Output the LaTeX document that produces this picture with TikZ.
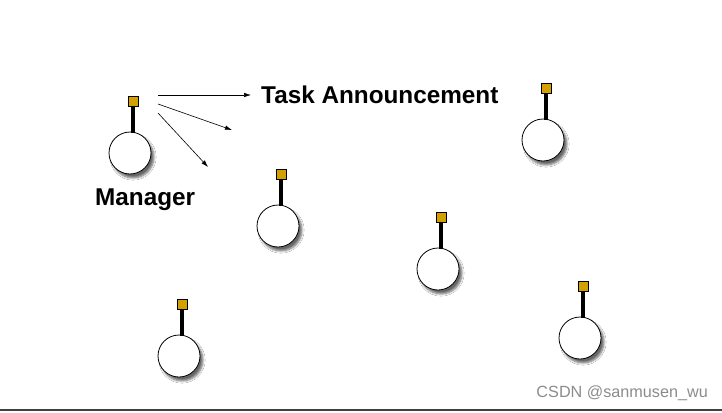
\documentclass[tikz,border=0pt]{standalone}
\usepackage{fontspec}
\setmainfont{Liberation Sans}
\usetikzlibrary{shadows.blur,arrows.meta}
\definecolor{boxgold}{RGB}{212,160,0}
\tikzset{
  agentbody/.style={circle,draw=black,line width=0.8pt,fill=white,minimum size=42pt,inner sep=0pt,
    blur shadow={shadow xshift=3pt,shadow yshift=-4pt,shadow blur steps=6,shadow opacity=60}},
  agenthead/.style={rectangle,draw=black,line width=0.8pt,fill=boxgold,minimum size=10pt,inner sep=0pt},
  stem/.style={line width=3.5pt,black},
  msg/.style={-{Latex[length=7pt,width=4.5pt]},line width=0.6pt},
  lbl/.style={font=\bfseries\fontsize{24.3}{28}\selectfont,inner sep=0pt}
}
\newcommand{\agent}[3]{%
  \node[agentbody] (#1b) at (#2-3,#3+52) {};
  \draw[stem] (#2,#3+5) -- (#2,#3+32);
  \node[agenthead] (#1h) at (#2,#3) {};
}
\begin{document}
\begin{tikzpicture}[x=1pt,y=-1pt]
\useasboundingbox (0,0) rectangle (722,412);
\fill[white] (0,0) rectangle (722,412);
\agent{m}{133}{101}
\agent{a}{281}{174}
\agent{b}{546}{88}
\agent{c}{441}{217}
\agent{d}{182}{304}
\agent{e}{583}{286}
\node[lbl,anchor=west] (task) at (261,94.5) {Task Announcement};
\node[lbl,anchor=west] (mgr) at (95,200) {Manager};
\coordinate (t1) at (251,95);
\coordinate (t2) at (232,130);
\coordinate (t3) at (208,167);
\coordinate (s1) at (158,95);
\coordinate (s2) at (158,104);
\coordinate (s3) at (158,113);
\draw[msg] (s1) -- (t1);
\draw[msg] (s2) -- (t2);
\draw[msg] (s3) -- (t3);
\node[anchor=east,text=black!45,font=\fontsize{16.2}{18}\selectfont,inner sep=0pt] (wm) at (708,393) {CSDN @sanmusen\_wu};
\draw[line width=1.5pt,black!75] (0,410) -- (722,410);
\end{tikzpicture}
\end{document}
